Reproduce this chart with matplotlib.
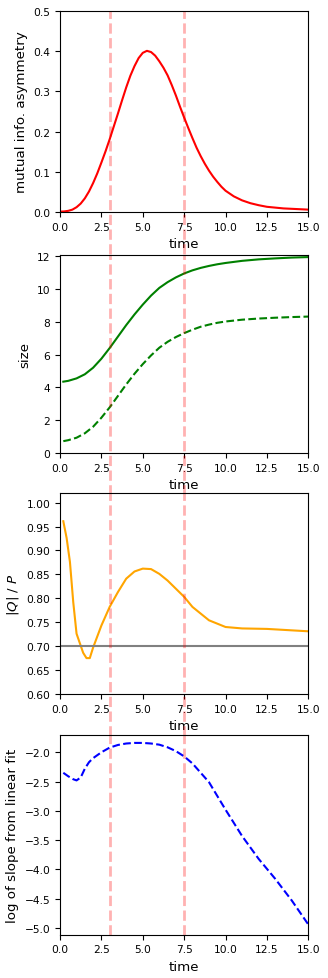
import numpy as np
import matplotlib
matplotlib.use('Agg')
import matplotlib.pyplot as plt

plt.rcParams['font.size'] = 9.6
plt.rcParams['xtick.labelsize'] = 7.7
plt.rcParams['ytick.labelsize'] = 7.7

# mutual information asymmetry
t_mi = [0, 0.25, 0.5, 0.75, 1, 1.25, 1.5, 1.75, 2, 2.25, 2.5, 2.75, 3, 3.25,
        3.5, 3.75, 4, 4.25, 4.5, 4.75, 5, 5.25, 5.5, 5.75, 6, 6.25, 6.5,
        6.75, 7, 7.25, 7.5, 7.75, 8, 8.25, 8.5, 8.75, 9, 9.25, 9.5, 9.75,
        10, 10.5, 11, 11.5, 12, 12.5, 13, 13.5, 14, 14.5, 15]
mi = [0.001, 0.0015, 0.003, 0.006, 0.012, 0.021, 0.034, 0.051, 0.072, 0.096,
      0.123, 0.151, 0.181, 0.213, 0.245, 0.278, 0.31, 0.339, 0.363, 0.383,
      0.396, 0.401, 0.398, 0.389, 0.375, 0.359, 0.34, 0.316, 0.29, 0.262,
      0.235, 0.209, 0.184, 0.16, 0.139, 0.12, 0.103, 0.088, 0.075, 0.063,
      0.053, 0.039, 0.029, 0.022, 0.017, 0.013, 0.011, 0.009, 0.008, 0.007,
      0.006]

# sizes
t_size = [0.2, 0.5, 1, 1.5, 2, 2.5, 3, 3.5, 4, 4.5, 5, 5.5, 6, 6.5, 7, 7.5,
          8, 8.5, 9, 9.5, 10, 11, 12, 13, 14, 15]
size_a = [4.35, 4.4, 4.55, 4.8, 5.2, 5.75, 6.4, 7.1, 7.8, 8.45, 9.05, 9.6,
          10.07, 10.42, 10.71, 10.95, 11.14, 11.29, 11.41, 11.51, 11.59,
          11.72, 11.81, 11.87, 11.92, 11.95]
size_b = [0.72, 0.78, 0.93, 1.2, 1.6, 2.15, 2.78, 3.48, 4.18, 4.83, 5.42,
          5.95, 6.42, 6.78, 7.07, 7.31, 7.52, 7.7, 7.83, 7.94, 8.02, 8.13,
          8.2, 8.25, 8.29, 8.32]

# |Q| / P
t_q = [0.2, 0.4, 0.6, 0.8, 1.0, 1.25, 1.4, 1.6, 1.8, 2.0, 2.5, 3.0, 3.5, 4.0,
       4.5, 5.0, 5.5, 6.0, 6.5, 7.0, 7.5, 8.0, 9.0, 10.0, 11.0, 12.5, 15.0]
q_ratio = [0.961, 0.926, 0.876, 0.792, 0.726, 0.701, 0.686, 0.675, 0.675,
           0.697, 0.743, 0.782, 0.813, 0.841, 0.856, 0.862, 0.861, 0.851,
           0.837, 0.82, 0.803, 0.782, 0.754, 0.740, 0.737, 0.736, 0.731]
q_ref = 0.7

# log of slope from linear fit
t_slope = [0.2, 0.5, 0.8, 1.0, 1.25, 1.5, 1.75, 2, 2.5, 3, 3.5, 4, 4.5, 5,
           5.5, 6, 6.5, 7, 7.5, 8, 9, 10, 11, 12, 12.5, 13, 14, 15]
log_slope = [-2.35, -2.41, -2.46, -2.48, -2.43, -2.28, -2.17, -2.1, -2.0,
             -1.92, -1.875, -1.85, -1.84, -1.84, -1.85, -1.87, -1.915, -1.98,
             -2.07, -2.19, -2.51, -2.98, -3.43, -3.82, -3.99, -4.16, -4.53,
             -4.94]

t_marks = [3, 7.5]

fig = plt.figure(figsize=(3.28, 9.79), dpi=100)
left, width = 60 / 328, 248.3 / 328
ax1 = fig.add_axes([left, 0.7824, width, 0.2053])
ax2 = fig.add_axes([left, 0.5363, width, 0.2026])
ax3 = fig.add_axes([left, 0.2901, width, 0.2053])
ax4 = fig.add_axes([left, 0.0442, width, 0.2043])

ax1.plot(t_mi, mi, color='red')
ax1.set_ylim(0, 0.5)
ax1.set_ylabel('mutual info. asymmetry')

ax2.plot(t_size, size_a, color='green')
ax2.plot(t_size, size_b, color='green', ls='--')
ax2.set_ylim(0, 12.1)
ax2.set_ylabel('size')

ax3.plot(t_q, q_ratio, color='orange')
ax3.axhline(q_ref, color='gray')
ax3.set_ylim(0.6, 1.02)
ax3.set_ylabel(r'$|Q|\ /\ P$')

ax4.plot(t_slope, log_slope, color='blue', ls='--')
ax4.set_ylim(-5.115, -1.70)
ax4.set_ylabel('log of slope from linear fit')

for i, ax in enumerate([ax1, ax2, ax3, ax4]):
    ax.set_xlim(0, 15)
    ax.set_xlabel('time')
    for tm in t_marks:
        if i < 3:
            # stretch down into the gap to the next panel
            ax.axvline(tm, ymin=-0.21, ymax=1, color='red', alpha=0.3,
                       ls='--', lw=2, clip_on=False)
        else:
            ax.axvline(tm, color='red', alpha=0.3, ls='--', lw=2)

plt.savefig('out.png', dpi=100)
